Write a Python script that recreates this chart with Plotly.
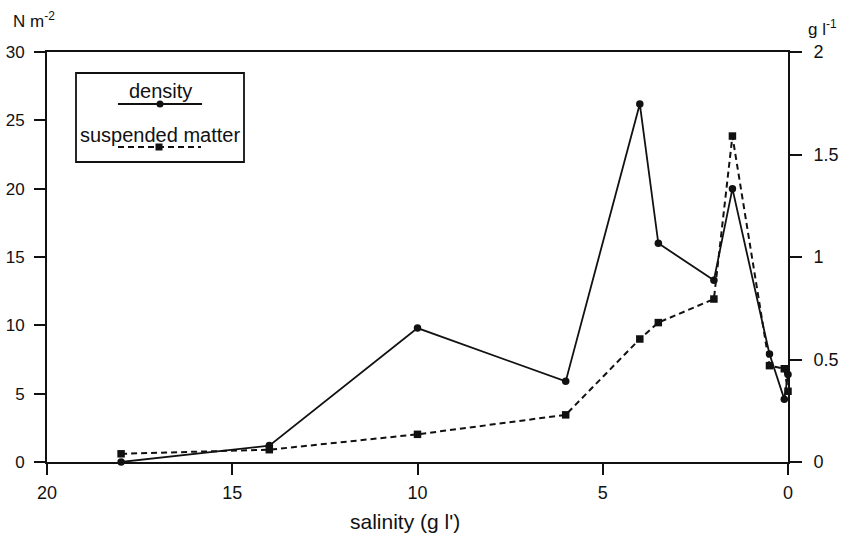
import plotly.graph_objects as go

# salinity (g l-1) for each series
density_salinity = [18, 14, 10, 6, 4, 3.5, 2, 1.5, 0.5, 0.1, 0]
density_values = [0.0, 1.2, 9.8, 5.9, 26.2, 16.0, 13.3, 20.0, 7.9, 4.6, 6.4]  # N m-2

suspended_salinity = [18, 14, 10, 6, 4, 3.5, 2, 1.5, 0.5, 0.1, 0]
suspended_values = [0.04, 0.06, 0.135, 0.23, 0.60, 0.68, 0.795, 1.59, 0.47, 0.455, 0.345]  # g l-1

x_ticks = [20, 15, 10, 5, 0]
y_left_ticks = [0, 5, 10, 15, 20, 25, 30]
y_right_ticks = [0, 0.5, 1, 1.5, 2]
y_right_ticktext = ["0", "0.5", "1", "1.5", "2"]

FONT = "Liberation Sans, Arial, Helvetica, sans-serif"
BLACK = "#111111"

fig = go.Figure()
fig.add_trace(go.Scatter(
    x=density_salinity, y=density_values, mode="lines+markers", name="density",
    line=dict(color=BLACK, width=1.8),
    marker=dict(symbol="circle", size=7.5, color=BLACK),
    cliponaxis=False, yaxis="y", showlegend=False,
))
fig.add_trace(go.Scatter(
    x=suspended_salinity, y=suspended_values, mode="lines+markers", name="suspended matter",
    line=dict(color=BLACK, width=2, dash="6px,4px"),
    marker=dict(symbol="square", size=7.5, color=BLACK),
    cliponaxis=False, yaxis="y2", showlegend=False,
))

W, H = 843, 533
L, R, T, B = 47, 55, 52, 71
pw, ph = W - L - R, H - T - B


def px(x):
    return (x - L) / pw


def py(y):
    return (H - B - y) / ph


shapes = [
    dict(type="rect", xref="paper", yref="paper", x0=px(76), x1=px(244), y0=py(162), y1=py(73),
         line=dict(color=BLACK, width=1.8), fillcolor="white", layer="above"),
    dict(type="line", xref="paper", yref="paper", x0=px(118), x1=px(202), y0=py(104), y1=py(104),
         line=dict(color=BLACK, width=1.8)),
    dict(type="line", xref="paper", yref="paper", x0=px(118), x1=px(201), y0=py(147), y1=py(147),
         line=dict(color=BLACK, width=2, dash="6px,4px")),
    dict(type="circle", xref="paper", yref="paper", xsizemode="pixel", ysizemode="pixel",
         xanchor=px(160), yanchor=py(104), x0=-3.5, x1=3.5, y0=-3.5, y1=3.5,
         fillcolor=BLACK, line=dict(color=BLACK, width=0)),
    dict(type="rect", xref="paper", yref="paper", xsizemode="pixel", ysizemode="pixel",
         xanchor=px(159), yanchor=py(147), x0=-3.5, x1=3.5, y0=-3.5, y1=3.5,
         fillcolor=BLACK, line=dict(color=BLACK, width=0)),
]

annotations = [
    dict(text="density", xref="paper", yref="paper", x=px(160), y=py(91), showarrow=False,
         font=dict(size=20, color=BLACK, family=FONT), xanchor="center", yanchor="middle"),
    dict(text="suspended matter", xref="paper", yref="paper", x=px(160), y=py(135), showarrow=False,
         font=dict(size=20, color=BLACK, family=FONT), xanchor="center", yanchor="middle"),
    dict(text="N m<sup>-2</sup>", xref="paper", yref="paper", x=px(34), y=py(20), showarrow=False,
         font=dict(size=17, color=BLACK, family=FONT), xanchor="center", yanchor="middle"),
    dict(text="g l<sup>-1</sup>", xref="paper", yref="paper", x=px(822), y=py(28), showarrow=False,
         font=dict(size=17, color=BLACK, family=FONT), xanchor="center", yanchor="middle"),
    dict(text="salinity (g l')", xref="paper", yref="paper", x=px(405), y=py(521), showarrow=False,
         font=dict(size=21, color=BLACK, family=FONT), xanchor="center", yanchor="middle"),
]

fig.update_layout(
    width=W, height=H,
    margin=dict(l=L, r=R, t=T, b=B, pad=0),
    paper_bgcolor="white", plot_bgcolor="white",
    font=dict(family=FONT, color=BLACK, size=18),
    showlegend=False,
    shapes=shapes, annotations=annotations,
    xaxis=dict(range=[20, 0], tickvals=x_ticks, ticks="outside", ticklen=11, tickwidth=1.8,
               tickcolor=BLACK, showline=True, linecolor=BLACK, linewidth=2, mirror=True,
               showgrid=False, zeroline=False, tickfont=dict(size=18), ticklabelstandoff=2,
               automargin=False),
    yaxis=dict(range=[0, 30], tickvals=y_left_ticks, ticks="outside", ticklen=11, tickwidth=1.8,
               tickcolor=BLACK, showline=True, linecolor=BLACK, linewidth=2,
               showgrid=False, zeroline=False, tickfont=dict(size=17), ticklabelstandoff=6,
               automargin=False),
    yaxis2=dict(range=[0, 2], tickvals=y_right_ticks, ticktext=y_right_ticktext, overlaying="y",
                side="right", ticks="outside", ticklen=12, tickwidth=1.8, tickcolor=BLACK,
                showline=True, linecolor=BLACK, linewidth=2, showgrid=False, zeroline=False,
                tickfont=dict(size=18), ticklabelstandoff=8, automargin=False),
)

fig.write_html("out.html", config={"displayModeBar": False},
               post_script="document.body.style.margin='0';")
